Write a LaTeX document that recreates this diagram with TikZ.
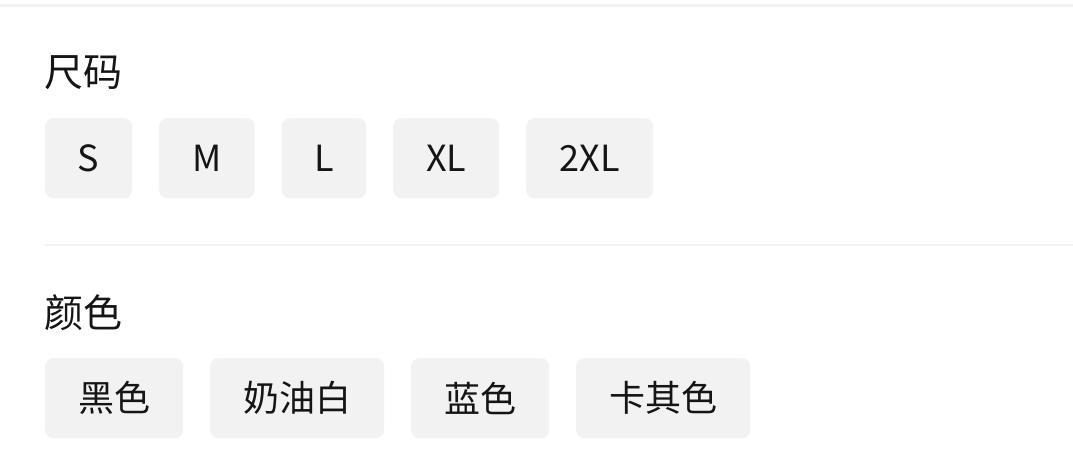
\documentclass[tikz,border=0pt]{standalone}
\usepackage{fontspec}
\setmainfont{Noto Sans CJK SC}
\usetikzlibrary{positioning}
\definecolor{chipgray}{HTML}{F2F2F2}
\definecolor{rulegray}{HTML}{F2F2F2}
\definecolor{inkblack}{HTML}{151515}
\begin{document}
\begin{tikzpicture}[x=1pt,y=1pt,node distance=26.6pt]
\tikzstyle{chip} = [rectangle,rounded corners=8pt,fill=chipgray,minimum height=80pt,inner sep=0pt,font=\fontsize{36}{36}\selectfont,text=inkblack]
\tikzstyle{heading} = [anchor=west,inner sep=0pt,font=\fontsize{39}{39}\selectfont,text=inkblack]
\tikzstyle{divider} = [draw=rulegray,line width=2.6pt]
    \useasboundingbox (0,0) rectangle (1073,-454);
    \coordinate (top left) at (0,-5.5);
    \coordinate (top right) at (1073,-5.5);
    \coordinate (mid left) at (45,-245);
    \coordinate (mid right) at (1073,-245);
    \draw[divider] (top left) -- (top right);
    \draw[divider] (mid left) -- (mid right);

    \node[heading] (size) at (44,-73) {尺码};
    \node[chip,minimum width=87pt,anchor=north west] (s) at (45,-118) {S};
    \node[chip,minimum width=95.5pt] (m) [right=of s] {M};
    \node[chip,minimum width=84.5pt] (l) [right=of m] {L};
    \node[chip,minimum width=106pt] (xl) [right=of l] {XL};
    \node[chip,minimum width=127pt] (xxl) [right=of xl] {2XL};

    \node[heading] (colour) at (44,-313) {颜色};
    \node[chip,minimum width=138pt,anchor=north west] (black) at (45,-358) {黑色};
    \node[chip,minimum width=174pt] (cream) [right=of black] {奶油白};
    \node[chip,minimum width=138pt] (blue) [right=of cream] {蓝色};
    \node[chip,minimum width=174pt] (khaki) [right=of blue] {卡其色};
\end{tikzpicture}
\end{document}
